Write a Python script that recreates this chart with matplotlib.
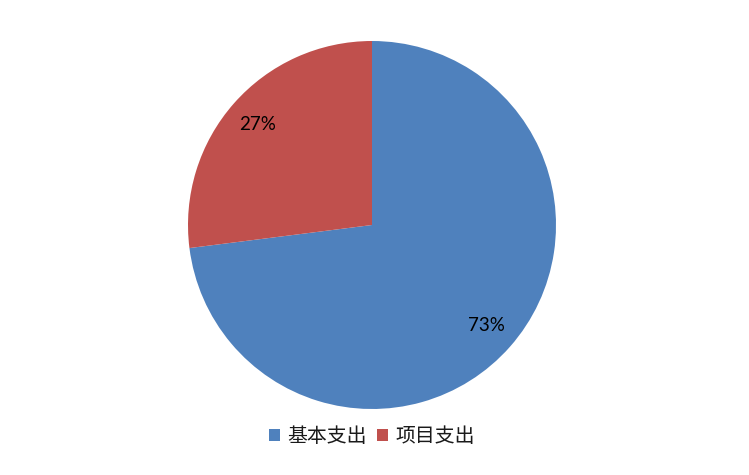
import matplotlib
matplotlib.use("Agg")
import matplotlib.pyplot as plt

categories = ["基本支出", "项目支出"]
values = [73, 27]
colors = ["#4F81BD", "#C0504D"]

plt.rcParams['font.family'] = ['Noto Sans CJK SC', 'DejaVu Sans']

W, H = 749, 475
fig = plt.figure(figsize=(W / 100, H / 100), dpi=100)
cx, cy, r = 372, 225, 184
ax = fig.add_axes([(cx - r) / W, (H - cy - r) / H, 2 * r / W, 2 * r / H])

wedges, texts, autotexts = ax.pie(
    values, colors=colors, startangle=90, counterclock=False,
    autopct=lambda p: f"{p:.0f}%", pctdistance=0.83,
    wedgeprops=dict(linewidth=0),
    textprops=dict(fontsize=13.5, color="black", family=["Lato", "DejaVu Sans"]),
)
ax.set_xlim(-1, 1)
ax.set_ylim(-1, 1)
ax.set_aspect("equal")
ax.axis("off")

leg = fig.legend(
    wedges, categories, loc="center", bbox_to_anchor=(372 / W, 1 - 437 / H),
    ncol=2, frameon=False, handlelength=0.55, handleheight=0.55,
    handletextpad=0.35, columnspacing=0.55,
    prop=dict(family=['Noto Sans CJK SC', 'DejaVu Sans'], size=14.3),
)
for t in leg.get_texts():
    t.set_color("#1a1a1a")

fig.savefig("out.png", dpi=100)
